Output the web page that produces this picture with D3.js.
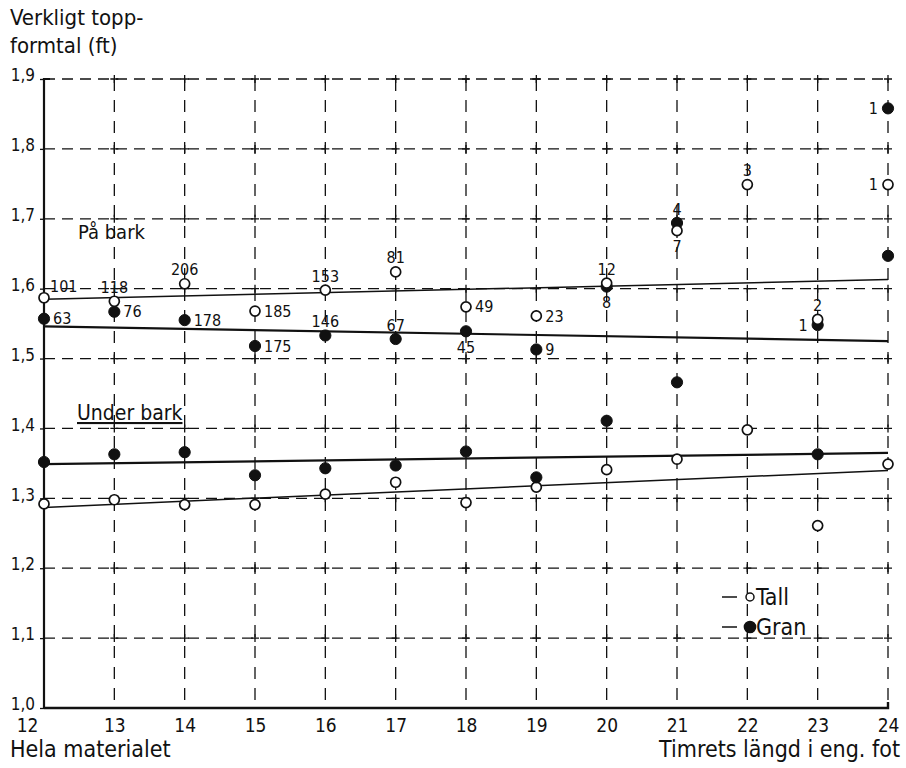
<!DOCTYPE html>
<html>
<head>
<meta charset="utf-8">
<script src="https://cdn.jsdelivr.net/npm/d3@7"></script>
<style>
  html, body { margin: 0; padding: 0; background: #fff; }
  svg { display: block; }
  text { font-family: "Liberation Sans Narrow", "DejaVu Sans Condensed", "Roboto Condensed", sans-serif; fill: #111; }
</style>
</head>
<body>
<svg id="chart" width="906" height="768"></svg>
<script>
// Timber length (English feet) on the x axis
const lengths = [12, 13, 14, 15, 16, 17, 18, 19, 20, 21, 22, 23, 24];
const yTicks = [1.0, 1.1, 1.2, 1.3, 1.4, 1.5, 1.6, 1.7, 1.8, 1.9];

// Actual top form factor, on bark
const tallOnBark = [1.587, 1.582, 1.607, 1.568, 1.598, 1.624, 1.574, 1.561, 1.608, 1.683, 1.749, 1.556, 1.749];
const granOnBark = [1.557, 1.567, 1.555, 1.518, 1.533, 1.528, 1.539, 1.513, 1.603, 1.694, null, 1.548, 1.858];
// Actual top form factor, under bark
const tallUnderBark = [1.292, 1.298, 1.291, 1.291, 1.306, 1.323, 1.294, 1.316, 1.341, 1.356, 1.398, 1.261, 1.349];
const granUnderBark = [1.352, 1.363, 1.366, 1.333, 1.343, 1.347, 1.367, 1.330, 1.411, 1.466, null, 1.363, 1.647];

// Number of trees per length class
const tallCounts = [101, 118, 206, 185, 153, 81, 49, 23, 12, 7, 3, 2, 1];
const granCounts = [63, 76, 178, 175, 146, 67, 45, 9, 8, 4, null, 1, 1];
// Where each count is written relative to its point: t(op), b(ottom), r(ight), l(eft), ur (up-right)
const tallCountSide = ["ur", "t", "t", "r", "t", "t", "r", "r", "t", "b", "t", "t", "l"];
const granCountSide = ["r", "r", "r", "r", "t", "t", "b", "r", "b", "t", null, "l", "l"];

// Fitted straight lines: [value at 12 ft, value at 24 ft]
const tallOnBarkFit = [1.585, 1.613];
const granOnBarkFit = [1.546, 1.525];
const tallUnderBarkFit = [1.287, 1.340];
const granUnderBarkFit = [1.349, 1.365];

const svg = d3.select("#chart");
const x = d3.scaleLinear().domain([12, 24]).range([44, 888]);
const y = d3.scaleLinear().domain([1.0, 1.9]).range([708, 79]);
const fmt = v => d3.format(".1f")(v).replace(".", ",");

// Dashed grid
const grid = svg.append("g").attr("stroke", "#111").attr("stroke-width", 1.3)
  .attr("stroke-dasharray", "11,7").attr("fill", "none");
grid.selectAll("line.h").data(yTicks.filter(v => v > 1.0)).join("line")
  .attr("class", "h")
  .attr("x1", x(12)).attr("x2", x(24))
  .attr("y1", d => y(d)).attr("y2", d => y(d));
grid.selectAll("line.v").data(lengths.filter(v => v > 12)).join("line")
  .attr("class", "v")
  .attr("y1", y(1.9)).attr("y2", y(1.0))
  .attr("x1", d => x(d)).attr("x2", d => x(d))
  .attr("stroke-dasharray", "12,9");

// Small crosses where grid lines meet
const crosses = [];
lengths.filter(v => v > 12).forEach(a => yTicks.filter(v => v > 1.0).forEach(b => crosses.push([a, b])));
const cg = svg.append("g").attr("stroke", "#111").attr("stroke-width", 1.3);
cg.selectAll("path").data(crosses).join("path")
  .attr("d", d => `M${x(d[0]) - 4},${y(d[1])}h8M${x(d[0])},${y(d[1]) - 4}v8`);

// Axes
const yAxis = d3.axisLeft(y).tickValues(yTicks).tickFormat(fmt).tickSize(4).tickPadding(6);
const gy = svg.append("g").attr("transform", `translate(${x(12)},0)`).call(yAxis);
gy.select(".domain").attr("d", `M6,${y(1.9)}H0V${y(1.0)}`).attr("stroke-width", 2.2).attr("stroke", "#111");
gy.selectAll(".tick line").attr("stroke", "#111").attr("stroke-width", 1.3);
gy.selectAll(".tick text").attr("font-size", 17).attr("dy", "0.1em").attr("x", -9);

const xAxis = d3.axisBottom(x).tickValues(lengths).tickFormat(d3.format("d")).tickSize(0).tickPadding(11);
const gx = svg.append("g").attr("transform", `translate(0,${y(1.0)})`).call(xAxis);
gx.select(".domain").attr("d", `M${x(12)},0H${x(24)}V-6`).attr("stroke-width", 2.4).attr("stroke", "#111");
gx.selectAll(".tick text").attr("font-size", 19)
  .attr("dx", d => d === 12 ? -17 : 0);

// Fitted lines
function fitLine(fit, w) {
  svg.append("line")
    .attr("x1", x(12)).attr("y1", y(fit[0]))
    .attr("x2", x(24)).attr("y2", y(fit[1]))
    .attr("stroke", "#111").attr("stroke-width", w);
}
fitLine(tallOnBarkFit, 1.5);
fitLine(granOnBarkFit, 2.2);
fitLine(tallUnderBarkFit, 1.5);
fitLine(granUnderBarkFit, 2.2);

// Points
function points(values, filled) {
  const data = lengths.map((l, i) => ({ l, v: values[i] })).filter(d => d.v != null);
  svg.append("g").selectAll("circle").data(data).join("circle")
    .attr("cx", d => x(d.l)).attr("cy", d => y(d.v))
    .attr("r", filled ? 5.6 : 5)
    .attr("fill", filled ? "#111" : "#fff")
    .attr("stroke", "#111").attr("stroke-width", filled ? 1 : 1.7);
}
points(tallUnderBark, false);
points(granUnderBark, true);
points(granOnBark, true);
points(tallOnBark, false);

// Tree counts beside the on-bark points
function counts(values, nums, sides) {
  const data = lengths.map((l, i) => ({ l, v: values[i], n: nums[i], s: sides[i] })).filter(d => d.n != null);
  svg.append("g").selectAll("text").data(data).join("text")
    .attr("font-size", 16)
    .attr("x", d => x(d.l) + ({ r: 9, l: -10, ur: 6 }[d.s] || 0))
    .attr("y", d => y(d.v) + ({ t: -14, b: 16, ur: -11 }[d.s] || 0))
    .attr("dy", "0.35em")
    .attr("text-anchor", d => d.s === "r" || d.s === "ur" ? "start" : d.s === "l" ? "end" : "middle")
    .text(d => d.n);
}
counts(tallOnBark, tallCounts, tallCountSide);
counts(granOnBark, granCounts, granCountSide);

// Titles and labels
svg.append("text").attr("x", 10).attr("y", 25).attr("font-size", 22).text("Verkligt topp-");
svg.append("text").attr("x", 10).attr("y", 53).attr("font-size", 22).text("formtal (ft)");
svg.append("text").attr("x", 78).attr("y", 239).attr("font-size", 20).text("På bark");
svg.append("text").attr("x", 77).attr("y", 420).attr("font-size", 21)
  .attr("text-decoration", "underline").text("Under bark");
svg.append("text").attr("x", 10).attr("y", 757).attr("font-size", 23).text("Hela materialet");
svg.append("text").attr("x", 900).attr("y", 757).attr("font-size", 23)
  .attr("text-anchor", "end").text("Timrets längd i eng. fot");

// Legend
const legend = [{ name: "Tall", filled: false }, { name: "Gran", filled: true }];
const lg = svg.append("g").selectAll("g").data(legend).join("g")
  .attr("transform", (d, i) => `translate(722,${597 + i * 30})`);
lg.append("line").attr("x1", 0).attr("x2", 15).attr("stroke", "#111").attr("stroke-width", 1.5);
lg.append("circle").attr("cx", 28).attr("r", d => d.filled ? 5.6 : 4)
  .attr("fill", d => d.filled ? "#111" : "#fff").attr("stroke", "#111").attr("stroke-width", 1.5);
lg.append("text").attr("x", 34).attr("dy", "0.35em").attr("font-size", 23).text(d => d.name);
</script>
</body>
</html>
